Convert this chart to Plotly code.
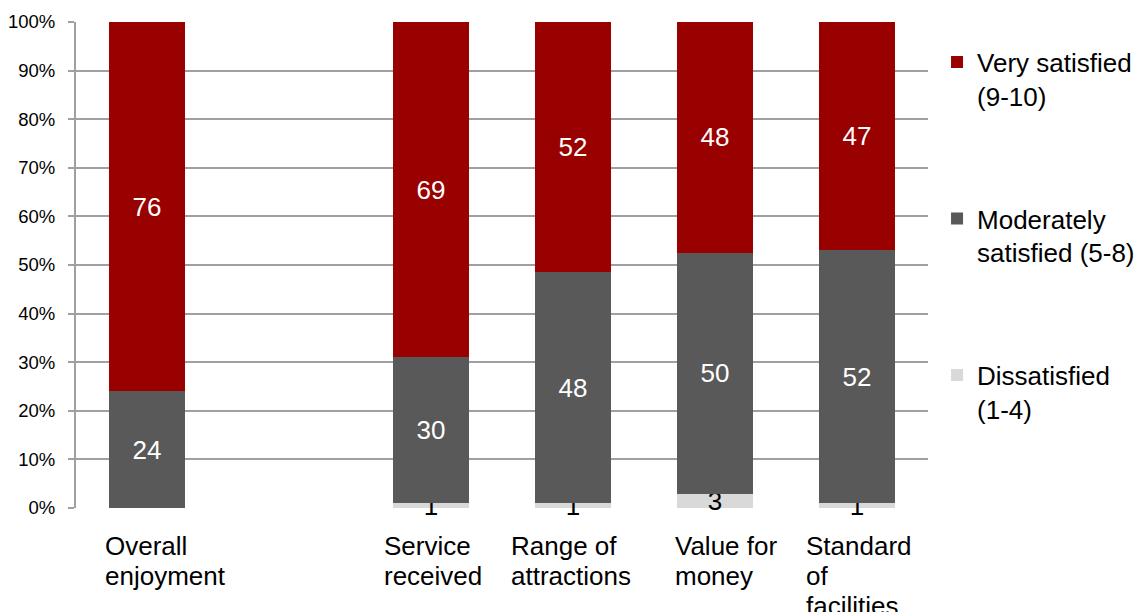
import plotly.graph_objects as go

categories = ["Overall enjoyment", " ", "Service received", "Range of attractions",
              "Value for money", "Standard of facilities"]
bar_categories = ["Overall enjoyment", "Service received", "Range of attractions",
                  "Value for money", "Standard of facilities"]
category_lines = [["Overall", "enjoyment"], ["Service", "received"], ["Range of", "attractions"],
                  ["Value for", "money"], ["Standard", "of", "facilities"]]
label_left_shifts = [-44, -49, -64, -42, -53]

dissatisfied = [0, 1, 1, 3, 1]
moderately = [24, 30, 48, 50, 52]
very = [76, 69, 52, 48, 47]

series = [
    ("Dissatisfied<br>(1-4)", dissatisfied, "#D9D9D9", "black", "d", 3),
    ("Moderately<br>satisfied (5-8)", moderately, "#595959", "white", "m", 2),
    ("Very satisfied<br>(9-10)", very, "#990000", "white", "v", 1),
]

FONT = "Arial, Liberation Sans, sans-serif"

fig = go.Figure()
for name, vals, color, tcolor, grp, rank in series:
    fig.add_trace(go.Bar(
        x=bar_categories, y=vals, name=name,
        marker=dict(color=color, line=dict(width=0)),
        text=[str(v) if v else "" for v in vals],
        textposition="inside", insidetextanchor="middle",
        constraintext="none", textangle=0,
        textfont=dict(family=FONT, size=26, color=tcolor),
        legendgroup=grp, legendrank=rank, width=0.54, cliponaxis=False,
    ))

for cat, lines, sh in zip(bar_categories, category_lines, label_left_shifts):
    for i, line in enumerate(lines):
        fig.add_annotation(x=cat, y=0, xref="x", yref="paper", text=line,
                           showarrow=False, xanchor="left", yanchor="top",
                           align="left", yshift=-21 - 30 * i, xshift=sh,
                           font=dict(family=FONT, size=26, color="black"))

fig.update_layout(
    width=1138, height=604,
    margin=dict(l=68, r=0, t=14, b=104),
    barmode="stack", barnorm="percent",
    plot_bgcolor="white", paper_bgcolor="white",
    font=dict(family=FONT, color="black"),
    xaxis=dict(type="category", categoryorder="array", categoryarray=categories,
               domain=[0, 852 / 1070],
               range=[-0.5, 5.5], showticklabels=False, showgrid=False,
               zeroline=False, showline=False, ticks="", automargin=False),
    yaxis=dict(range=[0, 100], tickvals=list(range(0, 101, 10)),
               ticktext=[f"{v}%" for v in range(0, 101, 10)],
               showgrid=True, gridcolor="#A0A0A0", gridwidth=2,
               showline=True, linecolor="#A0A0A0", linewidth=2,
               ticks="outside", ticklen=6, tickcolor="#A0A0A0", tickwidth=2,
               ticklabelstandoff=9,
               zeroline=False, automargin=False,
               tickfont=dict(family=FONT, size=18.5, color="black")),
    legend=dict(x=0.8047, y=0.966, xanchor="left", yanchor="top",
                traceorder="grouped", tracegroupgap=86,
                valign="top",
                font=dict(family=FONT, size=26, color="black"),
                itemwidth=30),
    showlegend=True,
)

fig.write_html("out.html")
